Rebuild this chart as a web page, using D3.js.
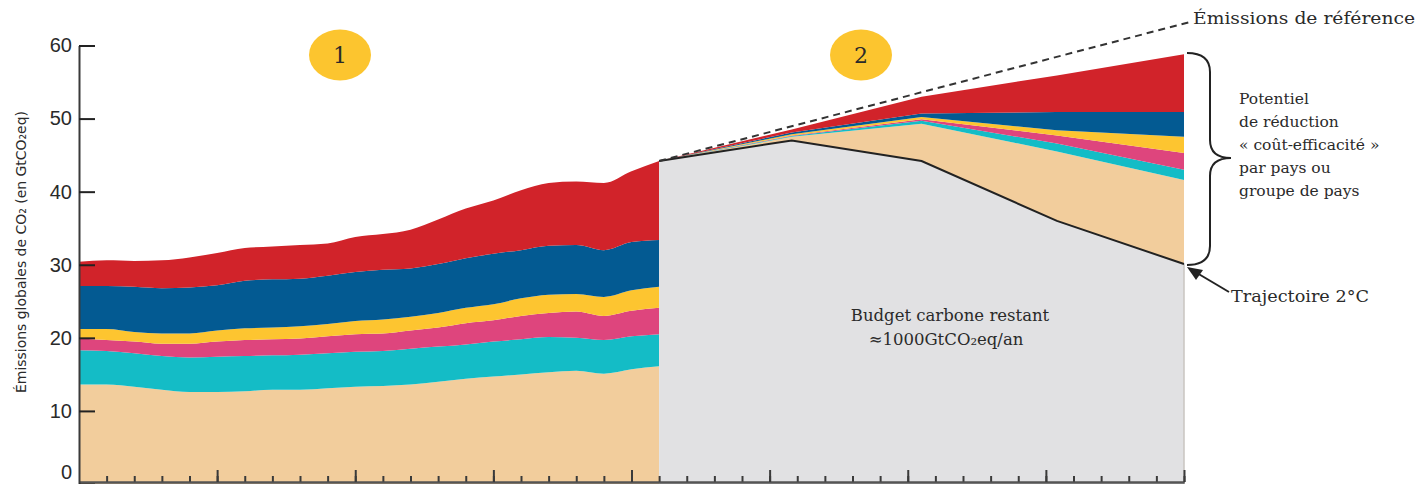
<!DOCTYPE html>
<html>
<head>
<meta charset="utf-8">
<script src="https://cdnjs.cloudflare.com/ajax/libs/d3/7.8.5/d3.min.js"></script>
<style>
  body { margin: 0; background: #fff; }
  svg text { font-family: "DejaVu Serif", serif; fill: #2a2a2a; }
</style>
</head>
<body>
<div id="chart"></div>
<script>

// historical years (zone 1)
var histYears = [1990, 1991, 1992, 1993, 1994, 1995, 1996, 1997, 1998, 1999, 2000,
                 2001, 2002, 2003, 2004, 2005, 2006, 2007, 2008, 2009, 2010, 2011];

// emissions per group of countries (GtCO2eq), bottom to top
var beige     = [13.6, 13.6, 13.3, 12.9, 12.6, 12.6, 12.7, 12.9, 12.9, 13.1, 13.3, 13.4, 13.6, 14.0, 14.4, 14.7, 15.0, 15.3, 15.5, 15.1, 15.7, 16.1];
var turquoise = [4.7, 4.6, 4.6, 4.6, 4.7, 4.8, 4.8, 4.7, 4.8, 4.8, 4.8, 4.8, 4.9, 4.8, 4.7, 4.8, 4.8, 4.8, 4.5, 4.6, 4.5, 4.4];
var rose      = [1.6, 1.5, 1.6, 1.7, 1.9, 2.1, 2.2, 2.2, 2.2, 2.3, 2.4, 2.4, 2.5, 2.6, 2.9, 2.9, 3.2, 3.3, 3.6, 3.3, 3.5, 3.6];
var jaune     = [1.3, 1.5, 1.3, 1.4, 1.4, 1.5, 1.6, 1.6, 1.7, 1.7, 1.8, 1.9, 1.9, 2.0, 2.1, 2.2, 2.4, 2.5, 2.4, 2.6, 2.8, 2.9];
var bleu      = [5.9, 5.9, 6.2, 6.2, 6.3, 6.2, 6.5, 6.6, 6.5, 6.6, 6.7, 6.8, 6.6, 6.7, 6.8, 6.9, 6.6, 6.7, 6.7, 6.4, 6.6, 6.4];
var rouge     = [3.3, 3.5, 3.5, 3.8, 4.1, 4.4, 4.5, 4.5, 4.6, 4.4, 4.8, 4.9, 5.3, 6.1, 6.8, 7.3, 8.2, 8.6, 8.7, 9.2, 9.7, 10.8];

// projection (zone 2)
var projYears   = [2011, 2015.8, 2020.5, 2025.4, 2030];
var trajectoire = [44.2, 47.0, 44.2, 36.0, 30.1];   // trajectoire 2°C
var beigeRed     = [0, 0.5, 5.1, 9.5, 11.5];
var turquoiseRed = [0, 0.1, 0.4, 1.1, 1.4];
var roseRed      = [0, 0.1, 0.2, 1.1, 2.3];
var jauneRed     = [0, 0.15, 0.3, 0.7, 2.2];
var bleuRed      = [0, 0.25, 0.5, 2.5, 3.4];
var rougeRed     = [0, 0.4, 2.3, 5.0, 7.9];

// emissions de reference (dashed)
var refYears  = [2011, 2030.2];
var refValues = [44.2, 63.2];

// axis ticks
var yTicks = [0, 10, 20, 30, 40, 50, 60];
var majorYears = [1995, 2000, 2005, 2010, 2015, 2020, 2025, 2030];

var keys = ["beige", "turquoise", "rose", "jaune", "bleu", "rouge"];
var colors = {
  beige: "#f2cd9c", turquoise: "#14bcc6", rose: "#de457d",
  jaune: "#fdc530", bleu: "#035a92", rouge: "#d1232a", gris: "#e1e1e3"
};

var W = 1420, H = 484;

var svg = d3.select("#chart").append("svg")
    .attr("width", W)
    .attr("height", H);

var x = d3.scaleLinear().domain([1990, 2030]).range([79, 1184]);
var y = d3.scaleLinear().domain([0, 60]).range([484, 45.5]);

// build tables
var hist = histYears.map(function(yr, i) {
  return { year: yr, beige: beige[i], turquoise: turquoise[i], rose: rose[i],
           jaune: jaune[i], bleu: bleu[i], rouge: rouge[i] };
});
var proj = projYears.map(function(yr, i) {
  return { year: yr, gris: trajectoire[i], beige: beigeRed[i], turquoise: turquoiseRed[i],
           rose: roseRed[i], jaune: jauneRed[i], bleu: bleuRed[i], rouge: rougeRed[i] };
});

var area = d3.area()
    .x(function(d) { return x(d.data.year); })
    .y0(function(d) { return y(d[0]); })
    .y1(function(d) { return y(d[1]); });

// zone 1 : historical stack
svg.append("g").selectAll("path")
    .data(d3.stack().keys(keys)(hist))
  .enter().append("path")
    .attr("d", area.curve(d3.curveMonotoneX))
    .attr("fill", function(d) { return colors[d.key]; });

// zone 2 : budget + reduction wedges
svg.append("g").selectAll("path")
    .data(d3.stack().keys(["gris"].concat(keys))(proj))
  .enter().append("path")
    .attr("d", area.curve(d3.curveLinear))
    .attr("fill", function(d) { return colors[d.key]; });

// right border of zone 2
svg.append("line")
    .attr("x1", x(2030)).attr("x2", x(2030))
    .attr("y1", y(0)).attr("y2", y(trajectoire[4]))
    .attr("stroke", "#c9c5c0").attr("stroke-width", 1.5);

// trajectoire 2°C
svg.append("path")
    .datum(projYears.map(function(yr, i) { return [yr, trajectoire[i]]; }))
    .attr("fill", "none")
    .attr("stroke", "#222")
    .attr("stroke-width", 2)
    .attr("d", d3.line().x(function(d) { return x(d[0]); }).y(function(d) { return y(d[1]); }));

// reference emissions
svg.append("path")
    .datum(refYears.map(function(yr, i) { return [yr, refValues[i]]; }))
    .attr("fill", "none")
    .attr("stroke", "#333")
    .attr("stroke-width", 2)
    .attr("stroke-dasharray", "7,5")
    .attr("d", d3.line().x(function(d) { return x(d[0]); }).y(function(d) { return y(d[1]); }));

// x axis (ticks upward, no labels)
var xMinor = svg.append("g")
    .attr("transform", "translate(0,482)")
    .call(d3.axisTop(x).tickValues(d3.range(1991, 2031)).tickSize(6).tickSizeOuter(0).tickFormat(""));
var xMajor = svg.append("g")
    .attr("transform", "translate(0,482)")
    .call(d3.axisTop(x).tickValues(majorYears).tickSize(12).tickSizeOuter(0).tickFormat(""));
[xMinor, xMajor].forEach(function(g) {
  g.selectAll("line").attr("stroke", "#3a3a3a").attr("stroke-width", 2);
  g.select(".domain").attr("stroke", "#555").attr("stroke-width", 2);
});

// y axis
var ya = svg.append("g")
    .attr("transform", "translate(79,0)")
    .call(d3.axisLeft(y).tickValues(yTicks).tickSize(-16).tickSizeOuter(0).tickPadding(7));
ya.select(".domain").attr("stroke", "#3a3a3a").attr("stroke-width", 2);
ya.selectAll("line").attr("stroke", "#222").attr("stroke-width", 2);
ya.selectAll("text")
    .style("font-family", "'Liberation Sans', sans-serif")
    .style("font-size", "20px")
    .attr("fill", "#333");
// keep the "0" inside the picture
ya.selectAll(".tick")
    .filter(function(d) { return d === 0; })
    .select("text")
    .attr("dy", "-0.3em");

// y axis label
svg.append("text")
    .attr("transform", "translate(26,252) rotate(-90)")
    .attr("text-anchor", "middle")
    .attr("textLength", 282)
    .attr("lengthAdjust", "spacingAndGlyphs")
    .style("font-family", "'DejaVu Sans', sans-serif")
    .style("font-size", "14px")
    .text("Émissions globales de CO₂ (en GtCO₂eq)");

// numbered badges
[["1", 340], ["2", 861]].forEach(function(b) {
  svg.append("ellipse")
      .attr("cx", b[1]).attr("cy", 55)
      .attr("rx", 31).attr("ry", 25.5)
      .attr("fill", "#fcc52f");
  svg.append("text")
      .attr("x", b[1]).attr("y", 63)
      .attr("text-anchor", "middle")
      .style("font-size", "22px")
      .text(b[0]);
});

// budget text
svg.append("text")
    .attr("x", 950).attr("y", 321)
    .attr("text-anchor", "middle")
    .style("font-size", "16.5px")
    .text("Budget carbone restant");
svg.append("text")
    .attr("x", 946).attr("y", 345)
    .attr("text-anchor", "middle")
    .style("font-size", "16.5px")
    .text("≈1000GtCO₂eq/an");

// reference label
svg.append("text")
    .attr("x", 1193).attr("y", 24)
    .attr("textLength", 222)
    .attr("lengthAdjust", "spacingAndGlyphs")
    .style("font-size", "16px")
    .text("Émissions de référence");

// brace
svg.append("path")
    .attr("d", "M1187,53 Q1210,53 1210,72 L1210,140 Q1210,158 1231,158 Q1210,158 1210,176 L1210,246 Q1210,265 1187,265")
    .attr("fill", "none")
    .attr("stroke", "#222")
    .attr("stroke-width", 2);

var potentiel = ["Potentiel", "de réduction", "« coût-efficacité »", "par pays ou", "groupe de pays"];
svg.append("g").selectAll("text")
    .data(potentiel)
  .enter().append("text")
    .attr("x", 1239)
    .attr("y", function(d, i) { return 104 + i * 23; })
    .style("font-size", "15.5px")
    .text(function(d) { return d; });

// trajectoire arrow
svg.append("line")
    .attr("x1", 1229).attr("y1", 292)
    .attr("x2", 1197).attr("y2", 273)
    .attr("stroke", "#222").attr("stroke-width", 2);
svg.append("path")
    .attr("d", "M1187,267 L1203,270 L1196,280 Z")
    .attr("fill", "#222");
svg.append("text")
    .attr("x", 1231).attr("y", 302)
    .attr("textLength", 138)
    .attr("lengthAdjust", "spacingAndGlyphs")
    .style("font-size", "16px")
    .text("Trajectoire 2°C");

</script>
</body>
</html>
